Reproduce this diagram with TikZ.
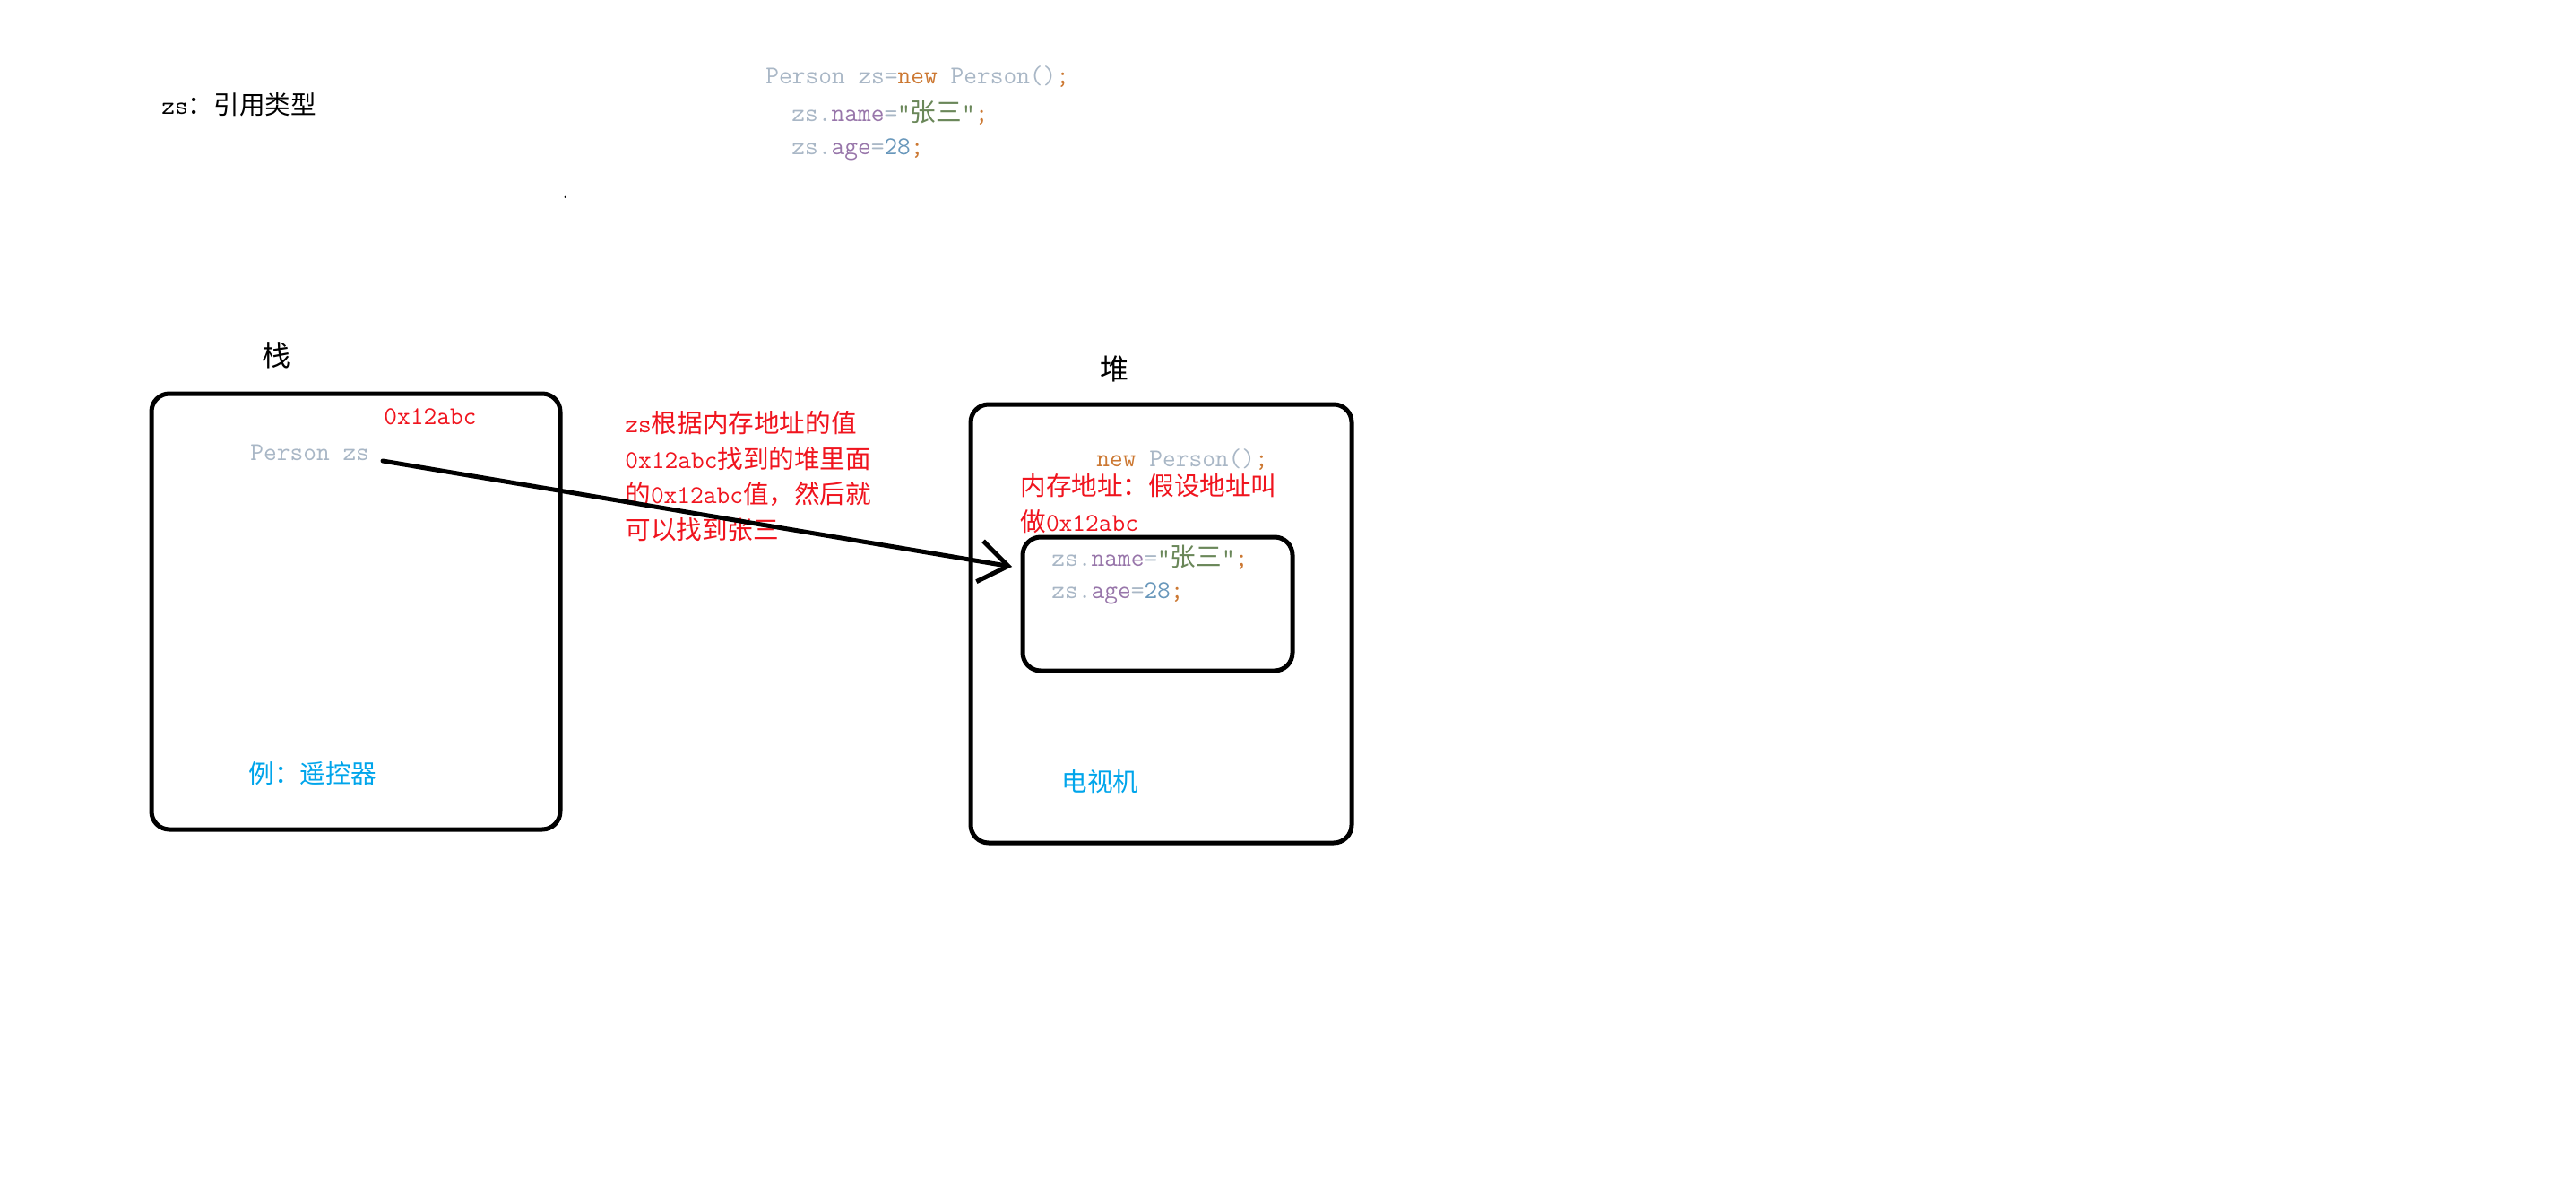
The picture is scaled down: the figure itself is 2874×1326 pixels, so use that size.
\documentclass[tikz,border=0pt]{standalone}
\usepackage{fontspec}
\newfontfamily\zhfont{Noto Sans CJK SC}
\usetikzlibrary{arrows.meta}
\definecolor{cgray}{HTML}{A9B7C6}
\definecolor{corange}{HTML}{CC7832}
\definecolor{cpurple}{HTML}{9876AA}
\definecolor{cgreen}{HTML}{6A8759}
\definecolor{cblue}{HTML}{6897BB}
\definecolor{tred}{RGB}{240,20,30}
\definecolor{tblue}{RGB}{0,165,235}
\newcommand\zh[1]{{\zhfont #1}}
\tikzset{
  box/.style={draw=black, line width=2.5pt, rounded corners=10pt, inner sep=0pt},
  txt/.style={inner sep=0pt, anchor=west, align=left, font=\fontsize{14.3pt}{19.75pt}\selectfont\ttfamily},
  big/.style={inner sep=0pt, font=\fontsize{16pt}{18pt}\selectfont\zhfont},
  ptr/.style={line width=2.5pt, line cap=round, -{Straight Barb[length=16pt,width=23pt]}}
}
\begin{document}
\begin{tikzpicture}[x=0.5pt,y=-0.5pt]
\useasboundingbox[fill=white] (0,0) rectangle (2874,1326);
% top texts
\node[txt] (ref) at (180,117) {zs\zh{：引用类型}};
\node[txt] (code1) at (854,86) {\textcolor{cgray}{Person zs=}\textcolor{corange}{new}\textcolor{cgray}{\ Person()}\textcolor{corange}{;}};
\node[txt] (code2) at (883,126) {\textcolor{cgray}{zs.}\textcolor{cpurple}{name}\textcolor{cgray}{=}\textcolor{cgreen}{“\zh{张三}”}\textcolor{corange}{;}};
\node[txt] (code3) at (883,167) {\textcolor{cgray}{zs.}\textcolor{cpurple}{age}\textcolor{cgray}{=}\textcolor{cblue}{28}\textcolor{corange}{;}};
\node[inner sep=0pt, font=\fontsize{12pt}{14pt}\selectfont] (dot) at (631,220) {.};
% titles
\node[big] (tstack) at (308,396) {栈};
\node[big] (theap) at (1243,411) {堆};
% boxes
\node[box, minimum width=228pt, minimum height=243pt] (stack) at (397,682) {};
\node[box, minimum width=212.5pt, minimum height=244.5pt] (heap) at (1295.5,695.5) {};
\node[box, minimum width=150.5pt, minimum height=74.5pt] (obj) at (1291.5,673.5) {};
% stack contents
\node[txt, text=tred] (addr) at (428,465) {0x12abc};
\node[txt, text=cgray] (pzs) at (279,505) {Person zs};
\node[txt, text=tblue] (remote) at (277,863) {\zh{例：遥控器}};
% explanation
\node[txt, text=tred] (expl) at (697,531) {zs\zh{根据内存地址的值}\\0x12abc\zh{找到的堆里面}\\\zh{的}0x12abc\zh{值，然后就}\\\zh{可以找到张三}};
% heap contents
\node[txt] (newp) at (1223,513) {\textcolor{corange}{new}\textcolor{cgray}{\ Person()}\textcolor{corange}{;}};
\node[txt, text=tred] (mem) at (1138,561.5) {\zh{内存地址：假设地址叫}\\\zh{做}0x12abc};
\node[txt] (f1) at (1173,622) {\textcolor{cgray}{zs.}\textcolor{cpurple}{name}\textcolor{cgray}{=}\textcolor{cgreen}{“\zh{张三}”}\textcolor{corange}{;}};
\node[txt] (f2) at (1173,662) {\textcolor{cgray}{zs.}\textcolor{cpurple}{age}\textcolor{cgray}{=}\textcolor{cblue}{28}\textcolor{corange}{;}};
\node[txt, text=tblue] (tv) at (1184,872) {\zh{电视机}};
% pointer arrow
\coordinate (arrS) at (427,514);
\coordinate (arrE) at (1129,632);
\draw[ptr] (arrS) -- (arrE);
\end{tikzpicture}
\end{document}
